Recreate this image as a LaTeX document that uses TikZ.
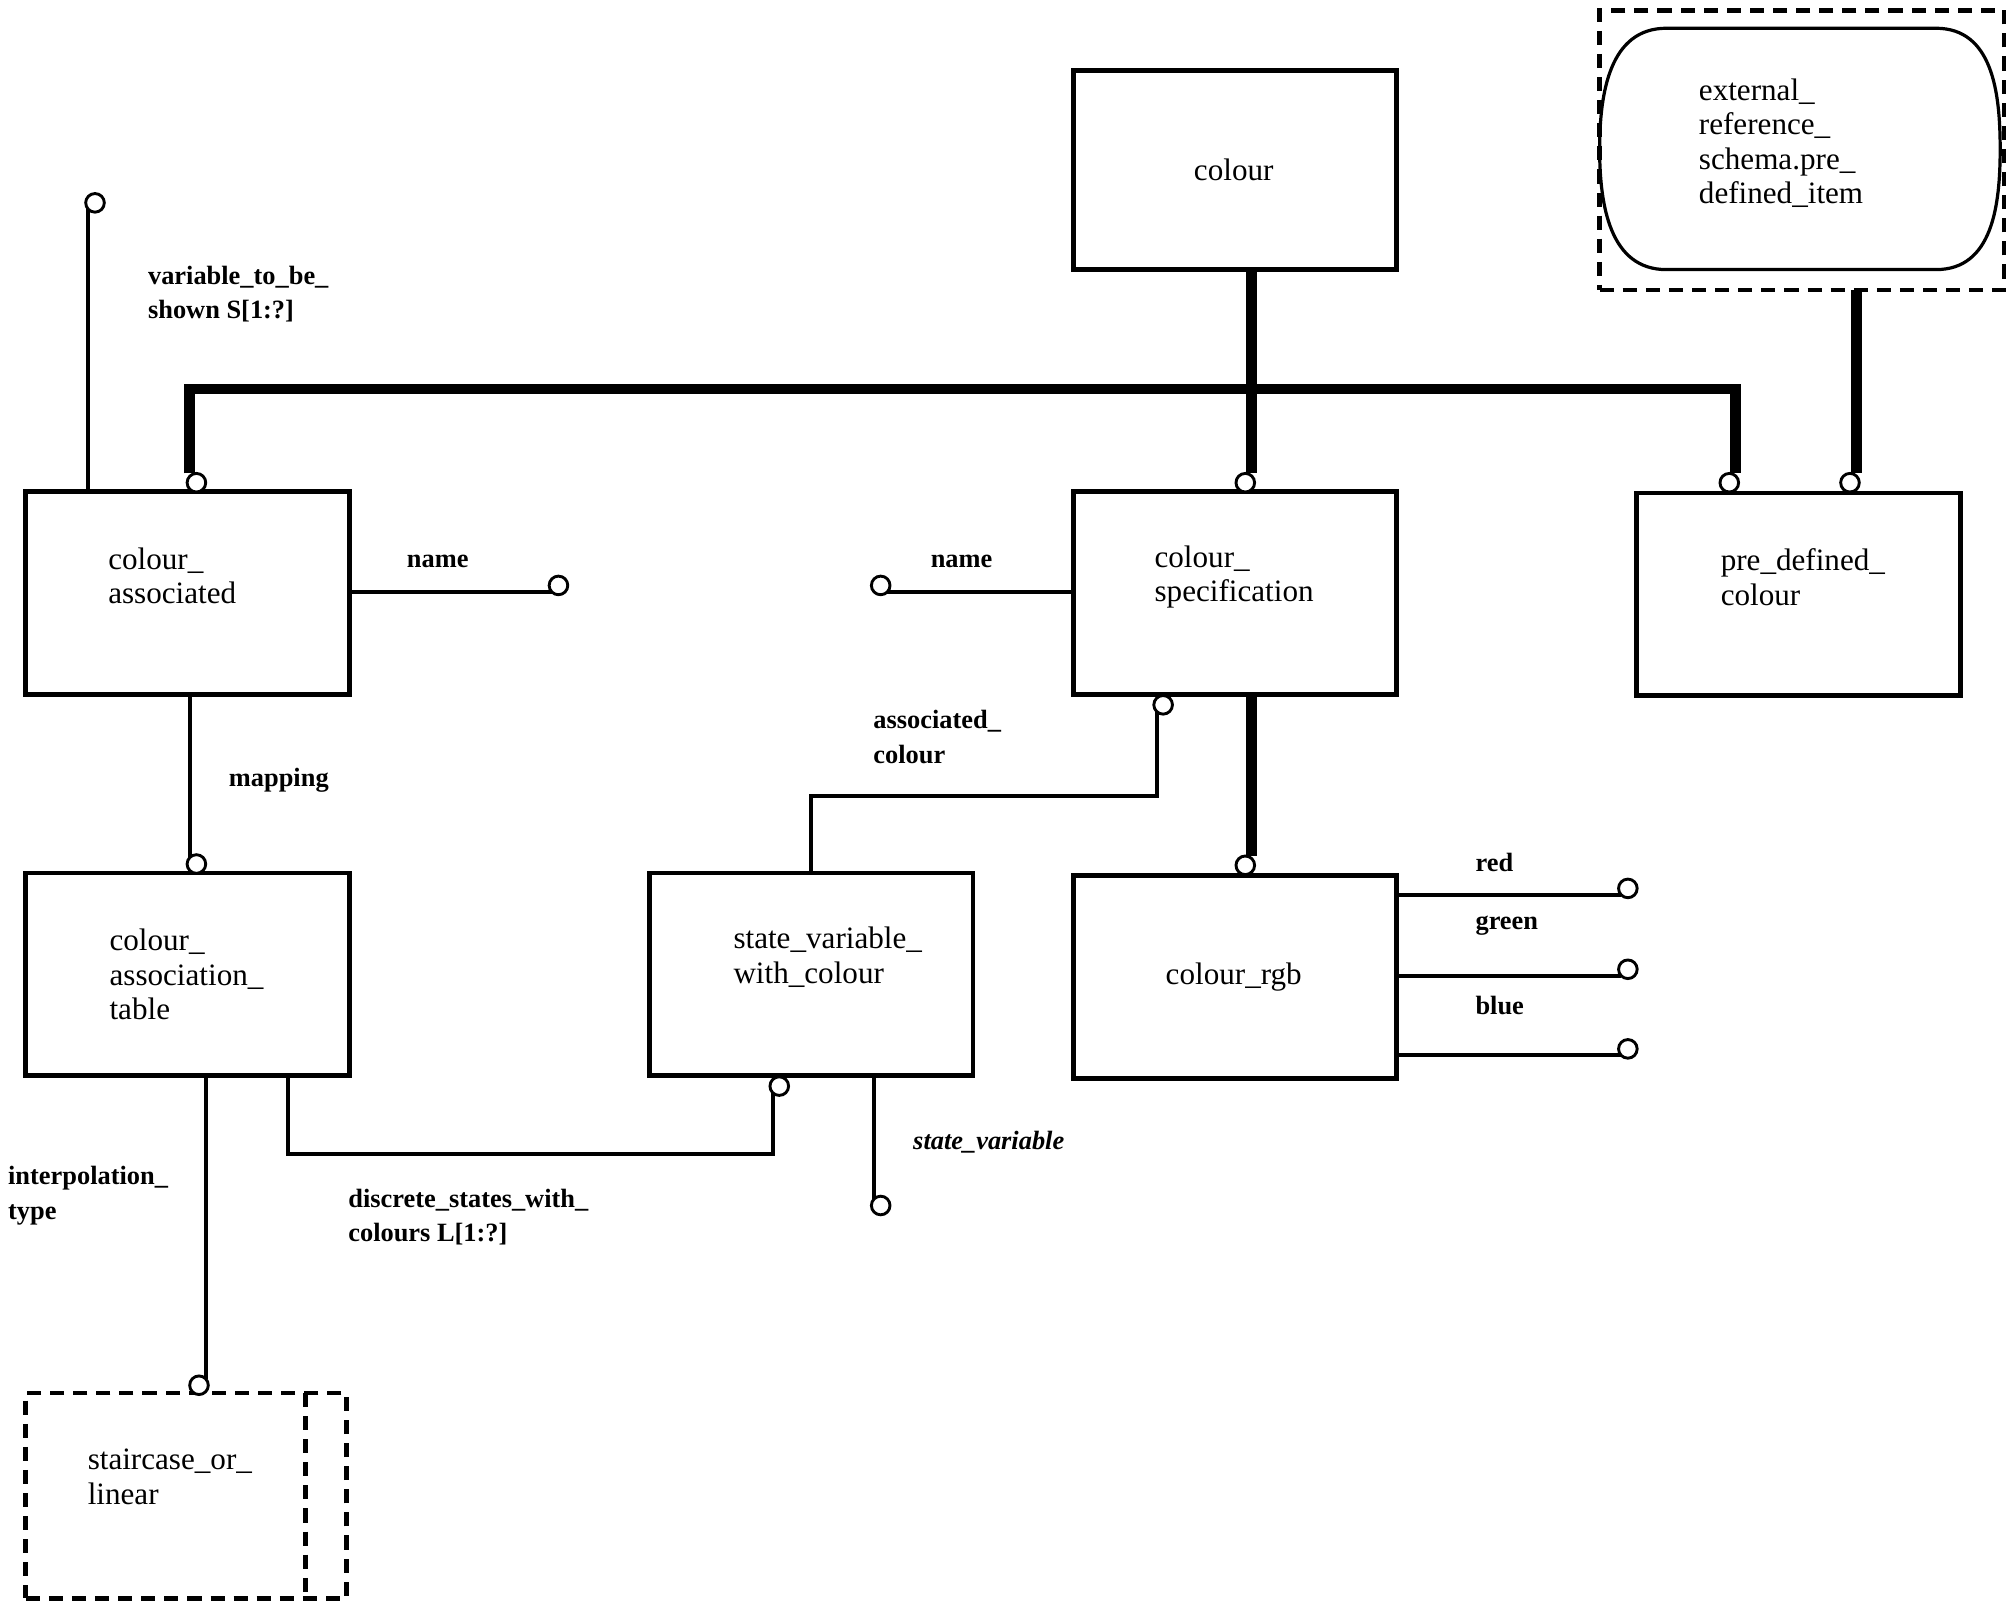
\documentclass[tikz,border=0pt]{standalone}
\usepackage{fontspec}
\setmainfont{Liberation Serif}
\usetikzlibrary{positioning}

\begin{document}
\begin{tikzpicture}[x=0.02cm, y=-0.02cm,
		entity/.style={draw, line width=0.075cm, minimum width=5.04cm, minimum height=3.16cm, inner sep=0pt, outer sep=0pt, anchor=north west},
		dashbox/.style={draw, line width=0.07cm, dash pattern=on 0.22cm off 0.14cm, inner sep=0pt, outer sep=0pt, anchor=north west},
		etext/.style={font=\fontsize{13.8}{15.3}\selectfont, align=left, inner sep=0pt, anchor=west},
		lbl/.style={font=\fontsize{11.7}{15.3}\selectfont\bfseries, align=left, inner sep=0pt, anchor=west},
		ring/.style={circle, draw, line width=0.045cm, minimum size=0.29cm, inner sep=0pt, outer sep=0pt, fill=white},
		attr/.style={line width=0.062cm},
		super/.style={line width=0.17cm}
	]
	\useasboundingbox (0,0) rectangle (1568,1251);

	% Supertype colour
	\node[entity, minimum height=3.1cm] (colour) at (836,55) {};
	\node[etext, anchor=center] (colour-txt) at (961,132) {colour};

	% External reference
	\node[dashbox, minimum width=6.3cm, minimum height=4.36cm] (ext) at (1246,8) {};
	\draw[line width=0.05cm] (1298,22) -- (1508,22) .. controls (1552,22) and (1558,72) .. (1558,116)
		.. controls (1558,160) and (1552,210) .. (1508,210) -- (1298,210)
		.. controls (1254,210) and (1246,160) .. (1246,116)
		.. controls (1246,72) and (1254,22) .. (1298,22) -- cycle;
	\node[etext] (ext-txt) at (1323,111.5) {external\_\\reference\_\\schema.pre\_\\defined\_item};

	% Subtypes
	\node[entity] (ca) at (20,383) {};
	\node[etext] (ca-txt) at (84,448.5) {colour\_\\associated};
	\node[entity] (cs) at (836,383) {};
	\node[etext] (cs-txt) at (899,449.5) {colour\_\\specification};
	\node[entity] (pd) at (1275,384) {};
	\node[etext] (pd-txt) at (1340,449.5) {pre\_defined\_\\colour};

	% Lower row
	\node[entity] (cat) at (20,680) {};
	\node[etext] (cat-txt) at (85,759) {colour\_\\association\_\\table};
	\node[entity] (sv) at (506,680) {};
	\node[etext] (sv-txt) at (571,745.5) {state\_variable\_\\with\_colour};
	\node[entity] (rgb) at (836,682) {};
	\node[etext, anchor=center] (rgb-txt) at (961,761) {colour\_rgb};

	% Type staircase_or_linear
	\node[dashbox, minimum width=5cm, minimum height=3.2cm] (stair) at (20,1085) {};
	\draw[line width=0.07cm, dash pattern=on 0.22cm off 0.14cm] ([xshift=-0.64cm]stair.north east) -- ([xshift=-0.64cm]stair.south east);
	\node[etext] (stair-txt) at (68,1150.5) {staircase\_or\_\\linear};

	% Rings
	\node[ring] (ca-ring) at (153,376) {};
	\node[ring] (cs-ring) at (970,376) {};
	\node[ring] (pd1-ring) at (1347,376) {};
	\node[ring] (pd2-ring) at (1441,376) {};
	\node[ring] (rgb-ring) at (970,674) {};
	\node[ring] (vtb-ring) at (74,158) {};
	\node[ring] (n1-ring) at (435,456) {};
	\node[ring] (n2-ring) at (686,456) {};
	\node[ring] (map-ring) at (153,673) {};
	\node[ring] (ac-ring) at (906,549) {};
	\node[ring] (ds-ring) at (607,846) {};
	\node[ring] (sv-ring) at (686,939) {};
	\node[ring] (it-ring) at (155,1079) {};

	% Supertype tree
	\coordinate (bar) at (0,303);
	\draw[super] (colour.south -| cs-ring.north east) -- (cs-ring.north east |- cs-ring.north);
	\draw[super] (ca-ring.north west |- ca-ring.north) -- (ca-ring.north west |- bar) -- (pd1-ring.north east |- bar) -- (pd1-ring.north east |- pd1-ring.north);
	\draw[super] (ext.south -| pd2-ring.north east) -- (pd2-ring.north east |- pd2-ring.north);
	\draw[super] (cs.south -| rgb-ring.north east) -- (rgb-ring.north east |- rgb-ring.north);

	% Attributes
	\draw[attr] (ca.north -| vtb-ring.south west) -- (vtb-ring.south west);
	\node[lbl] (vtb-lbl) at (115,229) {variable\_to\_be\_\\shown S[1:?]};
	\draw[attr] (ca.east |- n1-ring.south west) -- (n1-ring.south west);
	\node[lbl, anchor=center] (n1-lbl) at (341,437) {name};
	\draw[attr] (cs.west |- n2-ring.south east) -- (n2-ring.south east);
	\node[lbl, anchor=center] (n2-lbl) at (749,437) {name};
	\draw[attr] (ca.south -| map-ring.north west) -- (map-ring.north west);
	\node[lbl] (map-lbl) at (178,608) {mapping};
	\coordinate (ac-bend) at (0,620);
	\draw[attr] (sv.north) |- (ac-ring.south west |- ac-bend) -- (ac-ring.south west);
	\node[lbl] (ac-lbl) at (680,574) {associated\_\\colour};
	\coordinate (ds-bend) at (224,899);
	\draw[attr] (cat.south -| ds-bend) -- (ds-bend) -| (ds-ring.south west);
	\node[lbl] (ds-lbl) at (271,948) {discrete\_states\_with\_\\colours L[1:?]};
	\draw[attr] (sv.south -| sv-ring.north west) -- (sv-ring.north west);
	\node[lbl, font=\fontsize{11.7}{15.3}\selectfont\bfseries\itshape] (sv-lbl) at (711,890) {state\_variable};
	\draw[attr] (cat.south -| it-ring.north east) -- (it-ring.north east);
	\node[lbl] (it-lbl) at (6,931.5) {interpolation\_\\type};
	\foreach \c/\y/\ly in {red/692/672, green/755/721, blue/817/783} {
			\node[ring] (\c-ring) at (1268,\y) {};
			\draw[attr] (rgb.east |- \c-ring.south west) -- (\c-ring.south west);
			\node[lbl] (\c-lbl) at (1149,\ly) {\c};
		}
\end{tikzpicture}
\end{document}
